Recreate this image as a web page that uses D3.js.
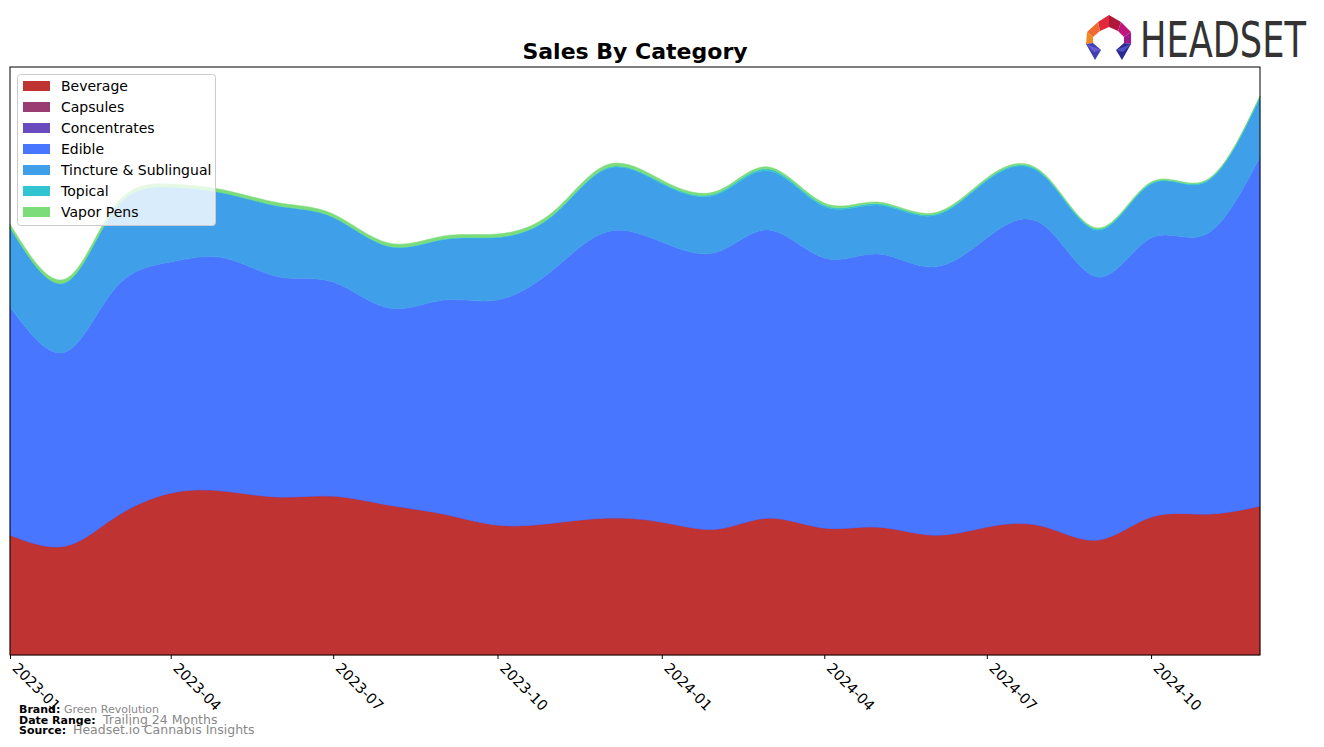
<!DOCTYPE html>
<html><head><meta charset="utf-8">
<script src="https://cdn.jsdelivr.net/npm/d3@7"></script>
<style>body{margin:0;background:#fff;}svg{display:block;font-family:"DejaVu Sans",sans-serif;}</style>
</head><body><svg id="c" width="1324" height="747"></svg>
<script>
const months = ["2023-01","2023-02","2023-03","2023-04","2023-05","2023-06","2023-07","2023-08","2023-09","2023-10","2023-11","2023-12",
"2024-01","2024-02","2024-03","2024-04","2024-05","2024-06","2024-07","2024-08","2024-09","2024-10","2024-11","2024-12"];
const categories = ["Beverage","Capsules","Concentrates","Edible","Tincture & Sublingual","Topical","Vapor Pens"];
const colors = ["#c03333","#993d73","#6a4bbd","#4876ff","#3f9fe8","#33c4d1","#7ddc7a"];
const beverage = [120,109,138,162,164,158,159,150,141,130,132,137,133,126,137,127,128,120,128,129,115,138,141,149];
const capsules = [0,0,0,0,0,0,0,0,0,0,0,0,0,0,0,0,0,0,0,0,0,0,0,0];
const concentrates = [0,0,0,0,0,0,0,0,0,0,0,0,0,0,0,0,0,0,0,0,0,0,0,0];
const edible = [228,194,229,231,233,220,214,197,214,225,253,286,280,277,288,270,273,268,289,302,263,279,280,349];
const tincture = [79.5,69.5,79.5,74.7,64.7,70.5,64.5,61.5,60.5,62.5,54.2,63,58.3,57.5,59,51.5,49,51.3,57.3,49.6,46.8,54,52.2,59.7];
const topical = [0,0,0,0.3,0.3,0.5,0.5,0.5,0.5,0.5,0.8,1,1.2,1.5,2,1.5,1.5,1.2,1.2,1.2,1.2,1,1,0.8];
const vapor = [3.5,3.5,3.5,3,3,3,3,3,3,3,3,3,2.5,2,2,2,1.5,1.5,1.5,1.2,1,1,0.8,0.5];
const tickLabels = ["2023-01","2023-04","2023-07","2023-10","2024-01","2024-04","2024-07","2024-10"];
const yMax = 588;

const series = [beverage,capsules,concentrates,edible,tincture,topical,vapor];
const parse = d3.timeParse("%Y-%m");
const rows = months.map((m,i)=>{const r={date:parse(m)};categories.forEach((c,j)=>r[c]=series[j][i]);return r;});

const svg = d3.select("#c");
const L=10,R=1260,T=67,B=655;
const x = d3.scaleTime().domain([parse(months[0]),parse(months[months.length-1])]).range([L,R]);
const y = d3.scaleLinear().domain([0,yMax]).range([B,T]);

const stack = d3.stack().keys(categories)(rows);
const area = d3.area().x(d=>x(d.data.date)).y0(d=>y(d[0])).y1(d=>y(d[1])).curve(d3.curveNatural);

svg.append("g").selectAll("path").data(stack).join("path")
  .attr("d",area).attr("fill",(d,i)=>colors[i]).attr("stroke",(d,i)=>colors[i]).attr("stroke-width",0.5);

// frame
svg.append("rect").attr("x",L).attr("y",T).attr("width",R-L).attr("height",B-T)
  .attr("fill","none").attr("stroke","#000").attr("stroke-width",1);

// x axis
const ax = svg.append("g").attr("transform",`translate(0,${B})`)
  .call(d3.axisBottom(x).tickValues(tickLabels.map(parse)).tickFormat(d3.timeFormat("%Y-%m")).tickSize(4).tickSizeOuter(0));
ax.select(".domain").remove();
ax.selectAll("line").attr("stroke","#000");
ax.selectAll("text").attr("font-size",14.5).attr("fill","#000").attr("font-family","DejaVu Sans")
  .attr("text-anchor","start").attr("dy",0).attr("y",0)
  .attr("transform","translate(1,14) rotate(45)");

// title
svg.append("text").attr("x",635).attr("y",59).attr("text-anchor","middle")
  .attr("font-size",22).attr("font-weight","bold").text("Sales By Category");

// legend
const lg = svg.append("g");
lg.append("rect").attr("x",17.5).attr("y",74.5).attr("width",198).attr("height",151).attr("rx",3)
  .attr("fill","#fff").attr("fill-opacity",0.8).attr("stroke","#ccc");
categories.forEach((c,i)=>{
  const yy = 86 + i*21;
  lg.append("rect").attr("x",23).attr("y",yy-5).attr("width",27).attr("height",10).attr("fill",colors[i]);
  lg.append("text").attr("x",61).attr("y",yy+5).attr("font-size",14).text(c);
});

// footer
const ft = [["Brand:","Green Revolution",713,64,11],["Date Range:","Trailing 24 Months",724,103,12.5],["Source:","Headset.io Cannabis Insights",734,73,12.5]];
ft.forEach(f=>{
  svg.append("text").attr("x",19).attr("y",f[2]).attr("font-size",11).attr("font-weight","bold").text(f[0]);
  svg.append("text").attr("x",f[3]).attr("y",f[2]).attr("font-size",f[4]).attr("fill","#888").text(f[1]);
});

// logo
const lo = svg.append("g");
const lt = lo.append("text").attr("x",0).attr("y",0).attr("font-size",50).attr("fill","#333")
  .attr("font-family","DejaVu Sans").text("HEADSET");
const nat = lt.node().getComputedTextLength();
lt.attr("transform",`translate(1140,57) scale(${166/nat},1)`);
const polys = [
  [[1098,22],[1109,15],[1109,27],[1100,31],"#e0283a"],
  [[1109,15],[1121,22],[1118,31],[1109,27],"#b0183a"],
  [[1121,22],[1131,32],[1124,37],[1118,31],"#c0157a"],
  [[1098,22],[1100,31],[1093,37],[1087,32],"#f06a30"],
  [[1087,32],[1093,37],[1093,43],[1086,44],"#f08a20"],
  [[1131,32],[1131,44],[1124,43],[1124,37],"#a01890"],
  [[1086,44],[1093,43],[1101,50],[1095,60],"#4040b0"],
  [[1131,44],[1124,43],[1116,50],[1122,60],"#2a2a90"],
  [[1086,44],[1101,50],[1094,52],"#6a5ad0"],
  [[1131,44],[1116,50],[1123,52],"#5050c0"]
];
polys.forEach(p=>{const col=p[p.length-1];lo.append("polygon").attr("points",p.slice(0,-1).map(q=>q.join(",")).join(" ")).attr("fill",col);});
</script></body></html>
